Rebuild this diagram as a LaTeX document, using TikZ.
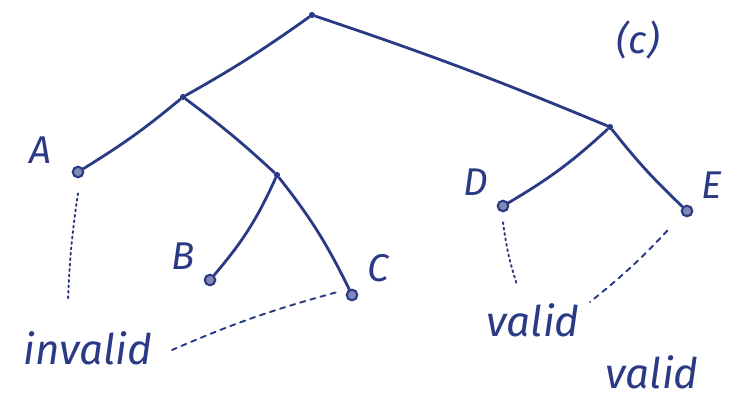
\documentclass[tikz,border=0pt]{standalone}
\usepackage{fontspec}
\setmainfont{Fira Sans}
\definecolor{ink}{HTML}{2B3A85}
\begin{document}
\begin{tikzpicture}[x=0.02cm,y=-0.02cm,
  edge/.style={ink,line width=1.6pt,line cap=round},
  dotline/.style={ink,line width=1.1pt,dotted,line cap=round},
  dashline/.style={ink,line width=1.1pt,dashed,line cap=round},
  vtx/.style={circle,draw=ink,fill=ink!60,line width=1.2pt,inner sep=0pt,minimum size=6pt},
  pt/.style={circle,fill=ink,inner sep=0pt,minimum size=3.5pt},
  lbl/.style={text=ink,font=\fontsize{22}{24}\selectfont\itshape},
  word/.style={text=ink,font=\fontsize{24}{26}\selectfont\itshape}]
\useasboundingbox (0,0) rectangle (737,398);
\fill[white] (0,0) rectangle (737,398);
% nodes
\node[pt] (r) at (312,15) {};
\node[pt] (l) at (183,97) {};
\node[pt] (rr) at (610,127) {};
\node[pt] (m) at (277,175) {};
\node[vtx] (a) at (78,172) {};
\node[vtx] (b) at (210,280) {};
\node[vtx] (c) at (352,295) {};
\node[vtx] (d) at (503,206) {};
\node[vtx] (e) at (687,211) {};
% labels
\node[lbl] (la) at (40,150) {A};
\node[lbl] (lb) at (183,256) {B};
\node[lbl] (lc) at (378,268) {C};
\node[lbl] (ld) at (476,182) {D};
\node[lbl] (le) at (712,185) {E};
\node[lbl] (title) at (638,40) {(c)};
\node[word] (inv) at (88,348) {invalid};
\node[word] (v1) at (533,320) {valid};
\node[word] (v2) at (652,372) {valid};
% edges
\draw[edge] (r) to[bend left=3] (l);
\draw[edge] (r) to[bend left=2] (rr);
\draw[edge] (l) to[bend left=4] (a);
\draw[edge] (l) to[bend left=3] (m);
\draw[edge] (m) to[bend left=8] (b);
\draw[edge] (m) to[bend left=6] (c);
\draw[edge] (rr) to[bend left=6] (d);
\draw[edge] (rr) to[bend right=4] (e);
% dotted / dashed
\coordinate (ae) at (68,300);
\coordinate (ce) at (172,350);
\coordinate (de) at (517,285);
\coordinate (ee) at (590,302);
\draw[dotline] ([yshift=-0.3cm]a.south) to[bend right=3] (ae);
\draw[dashline] ([xshift=-0.2cm,yshift=0.05cm]c.west) to[bend right=4] (ce);
\draw[dotline] ([yshift=-0.2cm]d.south) to[bend right=5] (de);
\draw[dashline] ([xshift=-0.3cm,yshift=-0.3cm]e.south west) to[bend left=4] (ee);
\end{tikzpicture}
\end{document}
